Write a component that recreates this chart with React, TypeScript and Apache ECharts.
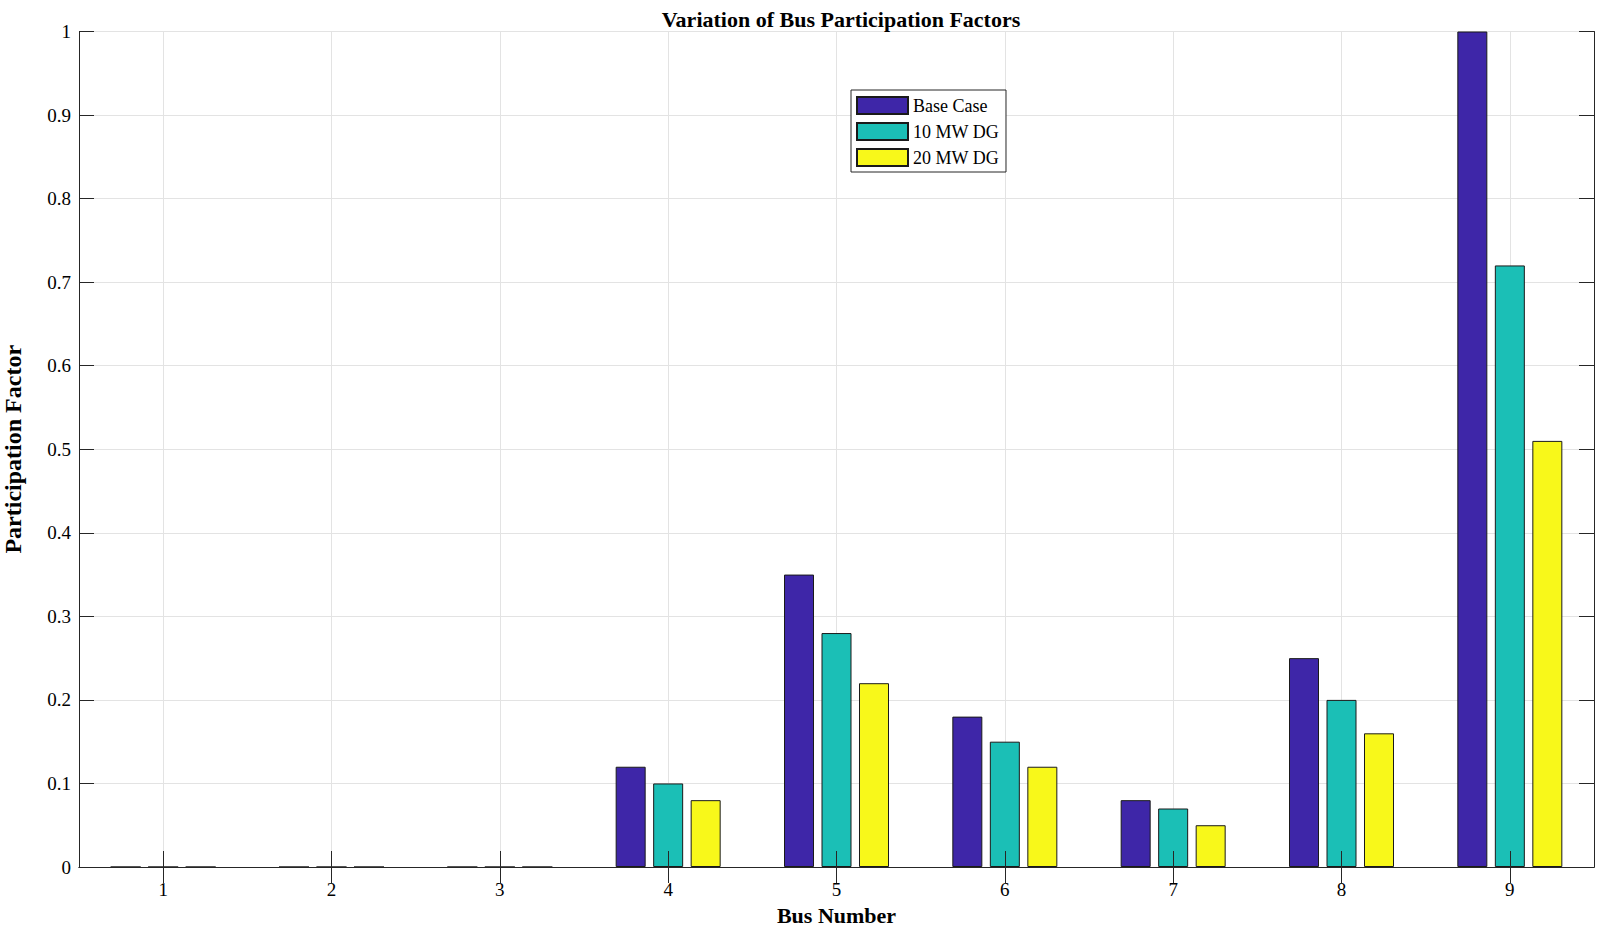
import React, { useEffect, useRef } from "react";
import * as echarts from "echarts";

const categories = ["1", "2", "3", "4", "5", "6", "7", "8", "9"];
const baseCase = [0, 0, 0, 0.12, 0.35, 0.18, 0.08, 0.25, 1.0];
const dg10 = [0, 0, 0, 0.1, 0.28, 0.15, 0.07, 0.2, 0.72];
const dg20 = [0, 0, 0, 0.08, 0.22, 0.12, 0.05, 0.16, 0.51];
const seriesNames = ["Base Case", "10 MW DG", "20 MW DG"];
const seriesColors = ["#3e26a8", "#1bbfb6", "#f8f81a"];

const FONT = "'Liberation Serif', 'Times New Roman', serif";
const AXIS_COLOR = "#262626";
const GRID_COLOR = "#e3e3e3";

export default function App() {
  const ref = useRef<HTMLDivElement>(null);

  useEffect(() => {
    document.body.style.margin = "0";
    if (!ref.current) return;
    const chart = echarts.init(ref.current, undefined, { renderer: "svg" });
    const values = [baseCase, dg10, dg20];

    const option: any = {
      animation: false,
      backgroundColor: "#ffffff",
      title: {
        text: "Variation of Bus Participation Factors",
        left: 836,
        textAlign: "center",
        top: 3,
        textStyle: { fontFamily: FONT, fontSize: 22, fontWeight: "bold", color: "#000" },
      },
      legend: {
        orient: "vertical",
        left: 851,
        top: 90,
        data: seriesNames,
        icon: "rect",
        itemWidth: 51,
        itemHeight: 17,
        itemGap: 7,
        padding: [6, 7, 5, 5],
        borderColor: AXIS_COLOR,
        borderWidth: 1,
        backgroundColor: "#ffffff",
        textStyle: { fontFamily: FONT, fontSize: 18, color: "#000" },
      },
      grid: {
        left: 79,
        right: 5,
        top: 31.5,
        bottom: 61,
        containLabel: false,
        outerBoundsMode: "none",
      },
      xAxis: [
        {
          type: "category",
          data: categories,
          boundaryGap: true,
          position: "bottom",
          z: 10,
          name: "Bus Number",
          nameLocation: "middle",
          nameGap: 48,
          nameMoveOverlap: false,
          nameTextStyle: {
            fontFamily: FONT,
            fontSize: 22,
            fontWeight: "bold",
            color: "#000",
            align: "center",
            verticalAlign: "middle",
          },
          axisLine: { show: true, lineStyle: { color: AXIS_COLOR, width: 1 } },
          axisTick: { show: true, inside: true, length: 16, alignWithLabel: true, lineStyle: { color: AXIS_COLOR } },
          axisLabel: { fontFamily: FONT, fontSize: 19, color: "#000", margin: 13 },
          splitLine: { show: false },
        },
        {
          type: "category",
          data: categories,
          boundaryGap: true,
          position: "top",
          z: 10,
          axisLine: { show: true, lineStyle: { color: AXIS_COLOR, width: 1 } },
          axisTick: { show: true, inside: true, length: 16, alignWithLabel: true, lineStyle: { color: AXIS_COLOR } },
          axisLabel: { show: false },
          splitLine: { show: false },
        },
      ],
      yAxis: [
        {
          type: "value",
          min: 0,
          max: 1,
          interval: 0.1,
          position: "left",
          name: "Participation Factor",
          nameLocation: "middle",
          nameRotate: 90,
          nameGap: 66,
          nameMoveOverlap: false,
          nameTextStyle: {
            fontFamily: FONT,
            fontSize: 24,
            fontWeight: "bold",
            color: "#000",
            align: "center",
            verticalAlign: "middle",
          },
          axisLine: { show: true, lineStyle: { color: AXIS_COLOR, width: 1 } },
          axisTick: { show: true, inside: true, length: 15, lineStyle: { color: AXIS_COLOR } },
          axisLabel: { fontFamily: FONT, fontSize: 19, color: "#000", margin: 8 },
          splitLine: { show: true, lineStyle: { color: GRID_COLOR, width: 1 } },
        },
        {
          type: "value",
          min: 0,
          max: 1,
          interval: 0.1,
          position: "right",
          z: 10,
          axisLine: { show: true, lineStyle: { color: AXIS_COLOR, width: 1 } },
          axisTick: { show: true, inside: true, length: 15, lineStyle: { color: AXIS_COLOR } },
          axisLabel: { show: false },
          splitLine: { show: false },
        },
      ],
      series: seriesNames.map((name, i) => {
        const s: any = {
          name,
          type: "bar",
          xAxisIndex: 0,
          yAxisIndex: 0,
          data: values[i],
          barWidth: 30,
          barGap: "25%",
          z: 2,
          itemStyle: { color: seriesColors[i], borderColor: "#1a1a1a", borderWidth: 1 },
        };
        if (i === 1) {
          s.markLine = {
            silent: true,
            z: 1,
            symbol: ["none", "none"],
            label: { show: false },
            lineStyle: { color: GRID_COLOR, type: "solid", width: 1 },
            data: categories.map((c) => ({ xAxis: c })),
          };
        }
        return s;
      }),
    };

    chart.setOption(option);
    return () => chart.dispose();
  }, []);

  return <div ref={ref} style={{ width: 1599, height: 928 }} />;
}
